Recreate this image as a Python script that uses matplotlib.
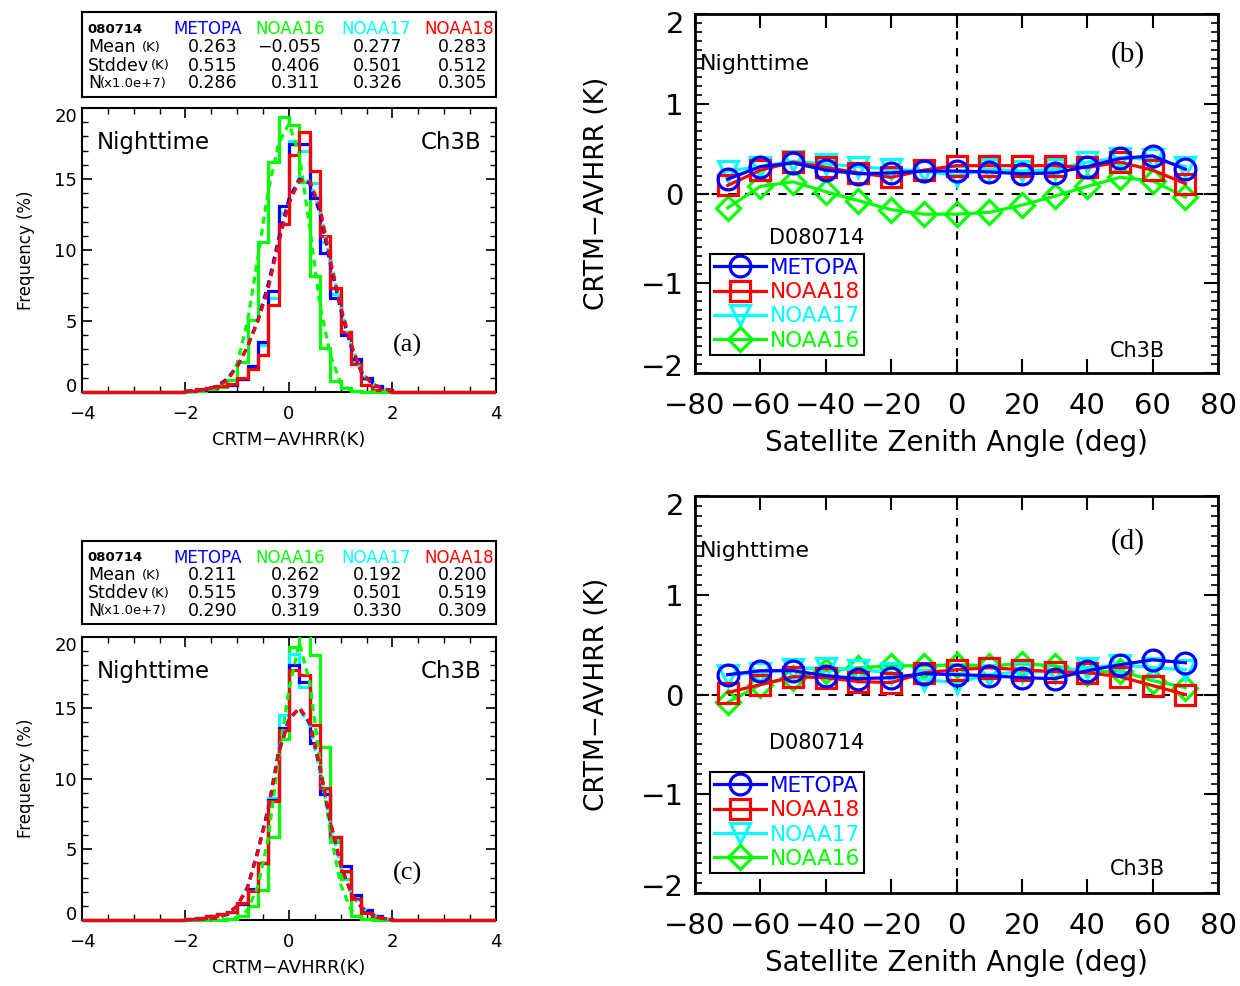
import numpy as np
import matplotlib.pyplot as plt
from matplotlib.ticker import MultipleLocator
from matplotlib.patches import Rectangle
from matplotlib.transforms import ScaledTranslation

sats = ['METOPA', 'NOAA16', 'NOAA17', 'NOAA18']
colors = {'METOPA': '#0000ff', 'NOAA16': '#00ff00', 'NOAA17': '#00ffff', 'NOAA18': '#ff0000'}

# ---- statistics tables ----
stats_a = {'Mean': ['0.263', '\u22120.055', '0.277', '0.283'],
           'Stddev': ['0.515', '0.406', '0.501', '0.512'],
           'N': ['0.286', '0.311', '0.326', '0.305']}
stats_c = {'Mean': ['0.211', '0.262', '0.192', '0.200'],
           'Stddev': ['0.515', '0.379', '0.501', '0.519'],
           'N': ['0.290', '0.319', '0.330', '0.309']}

# ---- histograms (%), bins of 0.2 K from -2.0 to 2.0 ----
bin_edges = [-2.0, -1.8, -1.6, -1.4, -1.2, -1.0, -0.8, -0.6, -0.4, -0.2, 0.0,
             0.2, 0.4, 0.6, 0.8, 1.0, 1.2, 1.4, 1.6, 1.8, 2.0]
hist_a = {
    'NOAA16': [0.05, 0.1, 0.2, 0.38, 0.85, 2.1, 5.1, 10.6, 16.2, 19.4, 18.8,
               14.8, 8.2, 3.1, 0.8, 0.26, 0.05, 0.02, 0.0, 0.0],
    'NOAA17': [0.1, 0.15, 0.25, 0.4, 0.5, 0.9, 1.7, 3.3, 6.6, 12.6, 17.7,
               17.0, 14.7, 10.6, 6.9, 4.2, 2.1, 0.9, 0.4, 0.15],
    'METOPA': [0.1, 0.15, 0.25, 0.4, 0.5, 0.9, 1.8, 3.5, 7.1, 13.1, 17.5,
               17.5, 13.7, 9.8, 6.6, 4.0, 2.3, 1.0, 0.4, 0.15],
    'NOAA18': [0.1, 0.2, 0.3, 0.4, 0.6, 1.0, 1.6, 2.6, 6.1, 11.8, 16.7,
               18.3, 15.6, 11.0, 7.3, 4.2, 2.0, 0.5, 0.15, 0.05],
}
hist_c = {
    'NOAA16': [0.0, 0.0, 0.02, 0.03, 0.05, 0.3, 1.0, 2.1, 5.9, 12.8, 19.3,
               21.0, 18.7, 12.2, 5.5, 2.9, 0.3, 0.05, 0.0, 0.0],
    'NOAA17': [0.1, 0.15, 0.25, 0.4, 0.6, 1.1, 2.1, 4.0, 8.6, 14.5, 18.8,
               16.5, 13.2, 9.2, 5.7, 3.4, 1.6, 0.6, 0.25, 0.1],
    'METOPA': [0.1, 0.15, 0.25, 0.4, 0.6, 1.1, 2.2, 4.0, 8.5, 13.6, 18.0,
               16.8, 12.5, 8.9, 5.9, 3.8, 1.8, 0.7, 0.3, 0.1],
    'NOAA18': [0.1, 0.15, 0.25, 0.4, 0.6, 1.2, 2.05, 4.05, 8.4, 13.4, 17.7,
               17.3, 13.8, 9.35, 5.9, 3.5, 1.5, 0.5, 0.2, 0.1],
}

# ---- fitted curves (dashed), read at 0.2 K steps ----
fit_x = [-2.0, -1.8, -1.6, -1.4, -1.2, -1.0, -0.8, -0.6, -0.4, -0.2, 0.0,
         0.2, 0.4, 0.6, 0.8, 1.0, 1.2, 1.4, 1.6, 1.8, 2.0]
fit_a = {
    'NOAA16': [0.0, 0.02, 0.1, 0.3, 0.8, 2.0, 5.0, 9.5, 14.2, 17.5, 18.9,
               16.7, 11.6, 6.1, 2.6, 0.6, 0.1, 0.02, 0.0, 0.0, 0.0],
    'NOAA17': [0.05, 0.1, 0.2, 0.4, 0.9, 1.8, 3.2, 5.0, 7.5, 10.6, 13.5,
               15.1, 14.8, 12.8, 9.2, 6.0, 3.3, 1.4, 0.6, 0.25, 0.1],
    'METOPA': [0.05, 0.1, 0.2, 0.4, 0.9, 1.8, 3.2, 5.1, 7.6, 10.8, 13.6,
               15.0, 14.7, 12.6, 9.0, 5.8, 3.2, 1.4, 0.6, 0.25, 0.1],
    'NOAA18': [0.05, 0.1, 0.2, 0.4, 0.8, 1.8, 3.2, 5.0, 7.3, 10.5, 13.3,
               14.9, 14.9, 13.0, 9.3, 6.0, 3.4, 1.4, 0.6, 0.25, 0.1],
}
fit_c = {
    'NOAA16': [0.0, 0.0, 0.0, 0.02, 0.05, 0.2, 0.7, 2.4, 5.8, 11.5, 16.3,
               19.6, 16.8, 11.2, 6.1, 2.5, 0.7, 0.15, 0.03, 0.0, 0.0],
    'NOAA17': [0.02, 0.03, 0.06, 0.15, 0.4, 1.0, 2.4, 5.0, 8.0, 12.0, 14.3,
               14.9, 13.8, 10.5, 6.8, 3.8, 1.9, 0.9, 0.4, 0.12, 0.05],
    'METOPA': [0.02, 0.03, 0.06, 0.15, 0.4, 1.0, 2.3, 4.9, 7.9, 11.9, 14.2,
               15.0, 13.9, 10.7, 6.9, 3.9, 1.9, 0.9, 0.4, 0.12, 0.05],
    'NOAA18': [0.02, 0.03, 0.06, 0.15, 0.4, 1.0, 2.3, 4.8, 7.8, 11.8, 14.1,
               15.0, 14.0, 10.8, 7.0, 3.9, 1.9, 0.9, 0.4, 0.12, 0.05],
}

# ---- bias vs satellite zenith angle ----
angles = [-70, -60, -50, -40, -30, -20, -10, 0, 10, 20, 30, 40, 50, 60, 70]
bias_b = {
    'METOPA': [0.16, 0.30, 0.34, 0.26, 0.22, 0.23, 0.25, 0.25, 0.24, 0.22, 0.23, 0.30, 0.39, 0.42, 0.27],
    'NOAA18': [0.09, 0.26, 0.35, 0.29, 0.23, 0.18, 0.26, 0.31, 0.31, 0.31, 0.31, 0.29, 0.35, 0.26, 0.11],
    'NOAA17': [0.25, 0.30, 0.36, 0.33, 0.30, 0.27, 0.25, 0.20, 0.27, 0.25, 0.27, 0.35, 0.40, 0.38, 0.30],
    'NOAA16': [-0.16, 0.08, 0.13, 0.02, -0.08, -0.18, -0.23, -0.23, -0.21, -0.13, -0.03, 0.08, 0.18, 0.14, -0.04],
}
bias_d = {
    'METOPA': [0.20, 0.24, 0.24, 0.19, 0.16, 0.17, 0.21, 0.20, 0.19, 0.17, 0.16, 0.24, 0.30, 0.35, 0.32],
    'NOAA18': [0.02, 0.10, 0.18, 0.17, 0.13, 0.12, 0.22, 0.25, 0.27, 0.25, 0.23, 0.22, 0.18, 0.09, 0.00],
    'NOAA17': [0.20, 0.22, 0.26, 0.27, 0.25, 0.22, 0.15, 0.12, 0.20, 0.23, 0.23, 0.27, 0.30, 0.27, 0.25],
    'NOAA16': [-0.08, 0.10, 0.17, 0.24, 0.27, 0.29, 0.29, 0.30, 0.29, 0.31, 0.29, 0.22, 0.24, 0.14, 0.07],
}
markers = {'METOPA': ('o', 15), 'NOAA18': ('s', 14), 'NOAA17': ('v', 15), 'NOAA16': ('D', 12)}


def draw_table(ax, stats):
    ax.set_xticks([])
    ax.set_yticks([])
    for s in ax.spines.values():
        s.set_linewidth(1.5)
    rows = [0.80, 0.585, 0.37, 0.16]
    head_x = [0.304, 0.502, 0.710, 0.911]
    val_x = [0.376, 0.577, 0.773, 0.980]
    ax.text(0.014, rows[0], '080714', fontsize=9.5, fontweight='bold',
            va='center', transform=ax.transAxes)
    for sat, x in zip(sats, head_x):
        ax.text(x, rows[0], sat, color=colors[sat], fontsize=12, ha='center',
                va='center', transform=ax.transAxes)
    labels = [('Mean', '(K)', 0.145), ('Stddev', '(K)', 0.166), ('N', '(x1.0e+7)', 0.044)]
    for (name, unit, ux), y in zip(labels, rows[1:]):
        ax.text(0.014, y, name, fontsize=12.5, va='center', transform=ax.transAxes)
        ax.text(ux, y, unit, fontsize=9.5, va='center', transform=ax.transAxes)
        for v, x in zip(stats[name], val_x):
            ax.text(x, y, v, fontsize=12.5, ha='right', va='center',
                    transform=ax.transAxes)


def inward_end_labels(ax, px):
    # nudge the first and last y tick labels inward, by px pixels
    ticks = ax.yaxis.get_major_ticks()
    d = px / 100.0
    lo, hi = ticks[0].label1, ticks[-1].label1
    lo.set_transform(lo.get_transform() + ScaledTranslation(0, d, ax.figure.dpi_scale_trans))
    hi.set_transform(hi.get_transform() + ScaledTranslation(0, -d, ax.figure.dpi_scale_trans))


def draw_hist(ax, hists, fits, tag):
    # clip box reaching a little below the axis so the zero line shows in full
    clip = Rectangle((0, -0.02), 1, 1.02, transform=ax.transAxes, fill=False, visible=False)
    ax.add_patch(clip)
    edges = [-4.0] + bin_edges + [4.0]
    for sat in ['NOAA16', 'NOAA17', 'METOPA', 'NOAA18']:
        vals = [0.0] + hists[sat] + [0.0]
        st = ax.stairs(vals, edges, color=colors[sat], lw=2.3, zorder=3)
        st.set_clip_path(clip)
    for sat in ['NOAA16', 'NOAA17', 'METOPA', 'NOAA18']:
        ln, = ax.plot(fit_x, fits[sat], color=colors[sat], lw=2.3, dashes=(2.2, 1.6), zorder=3)
        ln.set_clip_path(clip)
    ax.set_xlim(-4, 4)
    ax.set_ylim(0, 20)
    ax.set_yticks([0, 5, 10, 15, 20])
    ax.xaxis.set_major_locator(MultipleLocator(2))
    ax.xaxis.set_minor_locator(MultipleLocator(0.5))
    ax.yaxis.set_minor_locator(MultipleLocator(1))
    ax.tick_params(which='both', direction='in', top=True, right=True, labelsize=13)
    ax.tick_params(which='major', length=7, width=1.2)
    ax.tick_params(axis='x', which='major', pad=9)
    ax.tick_params(which='minor', length=4, width=1.0)
    inward_end_labels(ax, 7)
    for s in ax.spines.values():
        s.set_linewidth(1.5)
    ax.set_xlabel('CRTM\u2212AVHRR(K)', fontsize=13, labelpad=6)
    ax.set_ylabel('Frequency (%)', fontsize=12, labelpad=14)
    ax.text(0.036, 0.877, 'Nighttime', fontsize=16.5, va='center', transform=ax.transAxes)
    ax.text(0.966, 0.877, 'Ch3B', fontsize=16.5, ha='right', va='center', transform=ax.transAxes)
    ax.text(0.787, 0.165, tag, fontsize=19, family='Liberation Serif', ha='center',
            va='center', transform=ax.transAxes)


def draw_zenith(ax, bias, tag):
    ax.axhline(0, color='black', lw=1.5, dashes=(4, 4))
    ax.axvline(0, color='black', lw=1.5, dashes=(4, 4))
    handles = {}
    for sat in ['NOAA16', 'NOAA17', 'NOAA18', 'METOPA']:
        m, ms = markers[sat]
        line, = ax.plot(angles, bias[sat], color=colors[sat], lw=2.3, marker=m,
                        ms=ms, mfc='none', mew=2.3, label=sat)
        handles[sat] = line
    ax.set_xlim(-80, 80)
    ax.set_ylim(-2, 2)
    ax.set_yticks([-2, -1, 0, 1, 2])
    ax.xaxis.set_major_locator(MultipleLocator(20))
    ax.yaxis.set_minor_locator(MultipleLocator(0.1))
    ax.tick_params(which='both', direction='in', top=True, right=True, labelsize=21)
    ax.tick_params(which='major', length=10, width=1.5, pad=8)
    ax.tick_params(axis='x', which='major', pad=14)
    ax.tick_params(which='minor', length=5, width=1.2)
    inward_end_labels(ax, 8)
    for s in ax.spines.values():
        s.set_linewidth(2)
    ax.set_xlabel('Satellite Zenith Angle (deg)', fontsize=20, labelpad=6)
    ax.set_ylabel('CRTM\u2212AVHRR (K)', fontsize=19, labelpad=22)
    ax.text(0.01, 0.861, 'Nighttime', fontsize=16, va='center', transform=ax.transAxes)
    ax.text(0.828, 0.886, tag, fontsize=21, family='Liberation Serif', ha='center',
            va='center', transform=ax.transAxes)
    ax.text(0.845, 0.06, 'Ch3B', fontsize=15, ha='center', va='center', transform=ax.transAxes)
    order = ['METOPA', 'NOAA18', 'NOAA17', 'NOAA16']
    leg = ax.legend([handles[s] for s in order], order, loc='lower left',
                    bbox_to_anchor=(0.029, 0.05), fontsize=15.5, fancybox=False,
                    edgecolor='black', framealpha=1, handlelength=2.4,
                    handletextpad=0.15, borderpad=0.2, labelspacing=0.2,
                    borderaxespad=0, labelcolor='linecolor')
    leg.get_frame().set_linewidth(1.5)
    ax.text(0.233, 0.377, 'D080714', fontsize=15, ha='center', va='center',
            transform=ax.transAxes)


fig = plt.figure(figsize=(12.4, 9.86), dpi=100)

ax_ta = fig.add_axes([0.0661, 0.9016, 0.3339, 0.0862])
ax_a = fig.add_axes([0.0661, 0.6024, 0.3339, 0.2880])
ax_tc = fig.add_axes([0.0661, 0.3671, 0.3339, 0.0842])
ax_c = fig.add_axes([0.0661, 0.0669, 0.3339, 0.2870])
ax_b = fig.add_axes([0.5605, 0.6217, 0.4218, 0.3641])
ax_d = fig.add_axes([0.5605, 0.0943, 0.4218, 0.4026])

draw_table(ax_ta, stats_a)
draw_table(ax_tc, stats_c)
draw_hist(ax_a, hist_a, fit_a, '(a)')
draw_hist(ax_c, hist_c, fit_c, '(c)')
draw_zenith(ax_b, bias_b, '(b)')
draw_zenith(ax_d, bias_d, '(d)')

fig.savefig('out.png', dpi=100)
